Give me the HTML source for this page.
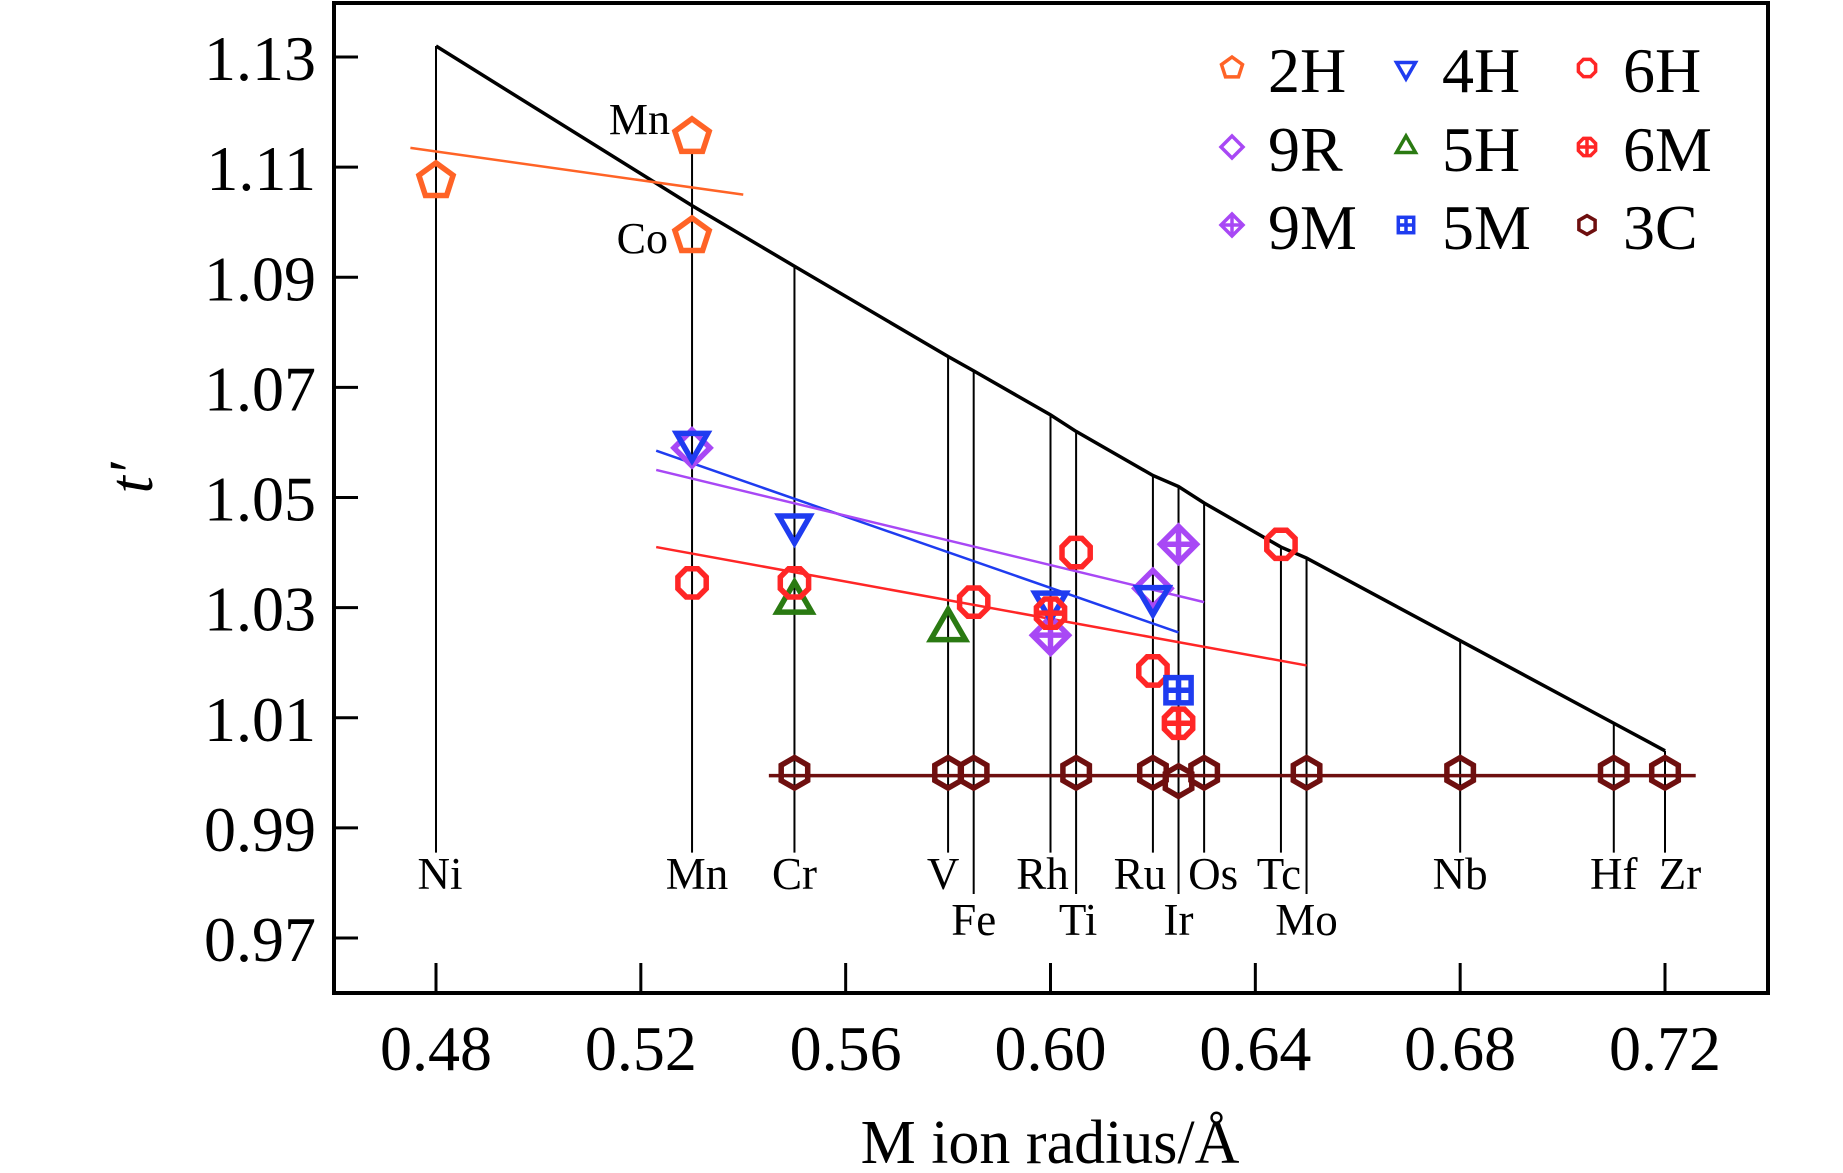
<!DOCTYPE html>
<html><head><meta charset="utf-8"><style>
html,body{margin:0;padding:0;background:#fff;}
svg{display:block;font-family:"Liberation Serif",serif;}
</style></head><body>
<svg id="chart" width="1843" height="1173" viewBox="0 0 1843 1173">
<g id="plot"></g>
</svg>
<script>
const xTicks=[0.48,0.52,0.56,0.60,0.64,0.68,0.72];
const yTicks=[1.13,1.11,1.09,1.07,1.05,1.03,1.01,0.99,0.97];
const elements=["Ni","Mn","Cr","V","Fe","Rh","Ti","Ru","Ir","Os","Tc","Mo","Nb","Hf","Zr"];
const elemRadius=[0.48,0.53,0.55,0.58,0.585,0.60,0.605,0.62,0.625,0.63,0.645,0.65,0.68,0.71,0.72];
const elemTop=[1.132,1.113,1.092,1.0756,1.073,1.065,1.062,1.054,1.052,1.049,1.041,1.039,1.024,1.009,1.004];
const limitT=[1.132,1.103,1.092,1.0756,1.073,1.065,1.062,1.054,1.052,1.049,1.041,1.039,1.024,1.009,1.004];
const elemLow=[0,0,0,0,1,0,1,0,1,0,0,1,0,0,0];
const s2H_x=[0.48,0.53,0.53], s2H_y=[1.1075,1.1155,1.0975];
const s4H_x=[0.53,0.55,0.60,0.62], s4H_y=[1.060,1.045,1.031,1.032];
const s9R_x=[0.53,0.62], s9R_y=[1.059,1.0335];
const s9M_x=[0.60,0.625], s9M_y=[1.025,1.0415];
const s6H_x=[0.53,0.55,0.585,0.605,0.62,0.645], s6H_y=[1.0345,1.0345,1.031,1.040,1.0185,1.0415];
const s6M_x=[0.60,0.625], s6M_y=[1.029,1.009];
const s5H_x=[0.55,0.58], s5H_y=[1.031,1.026];
const s5M_x=[0.625], s5M_y=[1.015];
const s3C_x=[0.55,0.58,0.585,0.605,0.62,0.625,0.63,0.65,0.68,0.71,0.72], s3C_y=[1.000,1.000,1.000,1.000,1.000,0.9985,1.000,1.000,1.000,1.000,1.000];
const fit2H=[[0.475,1.1135],[0.54,1.105]];
const fit4H=[[0.523,1.0585],[0.625,1.0255]];
const fit9R=[[0.523,1.055],[0.63,1.031]];
const fit6H=[[0.523,1.041],[0.65,1.0195]];
const fit3C=[[0.545,0.9995],[0.726,0.9995]];

const X=v=>436+(v-0.48)/0.24*(1665-436);
const Y=v=>57+(1.13-v)/0.16*(938-57);
const NS="http://www.w3.org/2000/svg";
const plot=document.getElementById('plot');
function mk(t,a,p){const e=document.createElementNS(NS,t);for(const k in a)e.setAttribute(k,a[k]);(p||plot).appendChild(e);return e;}
const C={o:"#ff6326",b:"#1f3cf0",p:"#a848f5",r:"#ff2626",g:"#2a7a12",d:"#6e0f0f"};

let fr=mk('rect',{x:334,y:3,width:1434,height:990,fill:'none',stroke:'#000','stroke-width':4});

xTicks.forEach(v=>{let l=mk('line',{x1:X(v),x2:X(v),y1:993,y2:963,stroke:'#000','stroke-width':3});

let t=mk('text',{x:X(v),y:1070,'font-size':64,'text-anchor':'middle'});t.textContent=v.toFixed(2);
});
yTicks.forEach(v=>{let l=mk('line',{x1:334,x2:358,y1:Y(v),y2:Y(v),stroke:'#000','stroke-width':3});

let t=mk('text',{x:316,y:Y(v)+23,'font-size':64,'text-anchor':'end'});t.textContent=v.toFixed(2);
});
let xt=mk('text',{x:1050,y:1163,'font-size':62,'text-anchor':'middle'});xt.textContent="M ion radius/Å";

let yt=mk('text',{x:155,y:505,'font-size':62,'font-style':'italic','text-anchor':'middle',transform:'rotate(-90 140 493)'});yt.textContent="t′";


const labelDx={Ni:4,Mn:5,Cr:0,V:-5,Fe:0,Rh:-8,Ti:2,Ru:-13,Ir:0,Os:9,Tc:-2,Mo:0,Nb:0,Hf:0,Zr:15};
elements.forEach((el,i)=>{
  const low=elemLow[i];
  let l=mk('line',{x1:X(elemRadius[i]),x2:X(elemRadius[i]),y1:Y(elemTop[i]),y2:low?Y(0.978):Y(0.9855),stroke:'#000','stroke-width':2});
  
  let t=mk('text',{x:X(elemRadius[i])+labelDx[el],y:low?935:889,'font-size':45,'text-anchor':'middle'});t.textContent=el;
  
});
let pts=elemRadius.map((r,i)=>X(r)+','+Y(limitT[i])).join(' ');
let lim=mk('polyline',{points:pts,fill:'none',stroke:'#000','stroke-width':3.5});


[[fit2H,C.o],[fit4H,C.b],[fit9R,C.p],[fit6H,C.r],[fit3C,C.d]].forEach(([f,c])=>{
  let l=mk('line',{x1:X(f[0][0]),y1:Y(f[0][1]),x2:X(f[1][0]),y2:Y(f[1][1]),stroke:c,'stroke-width':c===C.d?3.5:2.5});
  
});

function poly(cx,cy,r,n,rot){let a=[];for(let k=0;k<n;k++){const t=rot+k*2*Math.PI/n;a.push((cx+r*Math.cos(t)).toFixed(1)+','+(cy+r*Math.sin(t)).toFixed(1));}return a.join(' ');}
function marker(type,cx,cy,r,c,sw,name){
  const g=mk('g',{});
  
  
  const st={fill:'none',stroke:c,'stroke-width':sw};
  if(type==='pent')mk('polygon',Object.assign({points:poly(cx,cy,r,5,-Math.PI/2)},st),g);
  if(type==='tri')mk('polygon',Object.assign({points:poly(cx,cy,r,3,Math.PI/2)},st),g);
  if(type==='utri')mk('polygon',Object.assign({points:poly(cx,cy,r,3,-Math.PI/2)},st),g);
  if(type==='dia'||type==='diap'){mk('polygon',Object.assign({points:poly(cx,cy,r,4,-Math.PI/2)},st),g);}
  if(type==='oct'||type==='octp')mk('polygon',Object.assign({points:poly(cx,cy,r*0.85,8,Math.PI/8)},st),g);
  if(type==='hex')mk('polygon',Object.assign({points:poly(cx,cy,r*0.85,6,-Math.PI/2)},st),g);
  if(type==='sqp')mk('rect',Object.assign({x:cx-r*0.7,y:cy-r*0.7,width:r*1.4,height:r*1.4},st),g);
  if(type==='diap'||type==='octp'||type==='sqp'){
    const rr=type==='sqp'?r*0.7:(type==='octp'?r*0.85:r);
    mk('line',Object.assign({x1:cx-rr,x2:cx+rr,y1:cy,y2:cy},st),g);
    mk('line',Object.assign({x1:cx,x2:cx,y1:cy-rr,y2:cy+rr},st),g);
  }
  return g;
}
const series=[
 ['2H','pent',C.o,s2H_x,s2H_y],['4H','tri',C.b,s4H_x,s4H_y],['6H','oct',C.r,s6H_x,s6H_y],
 ['9R','dia',C.p,s9R_x,s9R_y],['5H','utri',C.g,s5H_x,s5H_y],['6M','octp',C.r,s6M_x,s6M_y],
 ['9M','diap',C.p,s9M_x,s9M_y],['5M','sqp',C.b,s5M_x,s5M_y],['3C','hex',C.d,s3C_x,s3C_y]];
[8,6,3,4,1,2,0,7,5].forEach(si=>{const s=series[si];
  s[3].forEach((xv,i)=>marker(s[1],X(xv),Y(s[4][i]),s[1]==='utri'?20:18,s[2],5.5,'point-'+s[0].toLowerCase()));});

const legX=[1232,1406,1587], legY=[68,147,225];
series.forEach((s,i)=>{const cx=legX[i%3], cy=legY[Math.floor(i/3)];
  marker(s[1],cx,cy,11,s[2],3.5,'legend-marker-'+s[0].toLowerCase());
  let t=mk('text',{x:cx+36,y:cy+24,'font-size':64});t.textContent=s[0];
  
});
let a1=mk('text',{x:670,y:134,'font-size':44,'text-anchor':'end'});a1.textContent='Mn';

let a2=mk('text',{x:668,y:253,'font-size':44,'text-anchor':'end'});a2.textContent='Co';

</script>
</body></html>
